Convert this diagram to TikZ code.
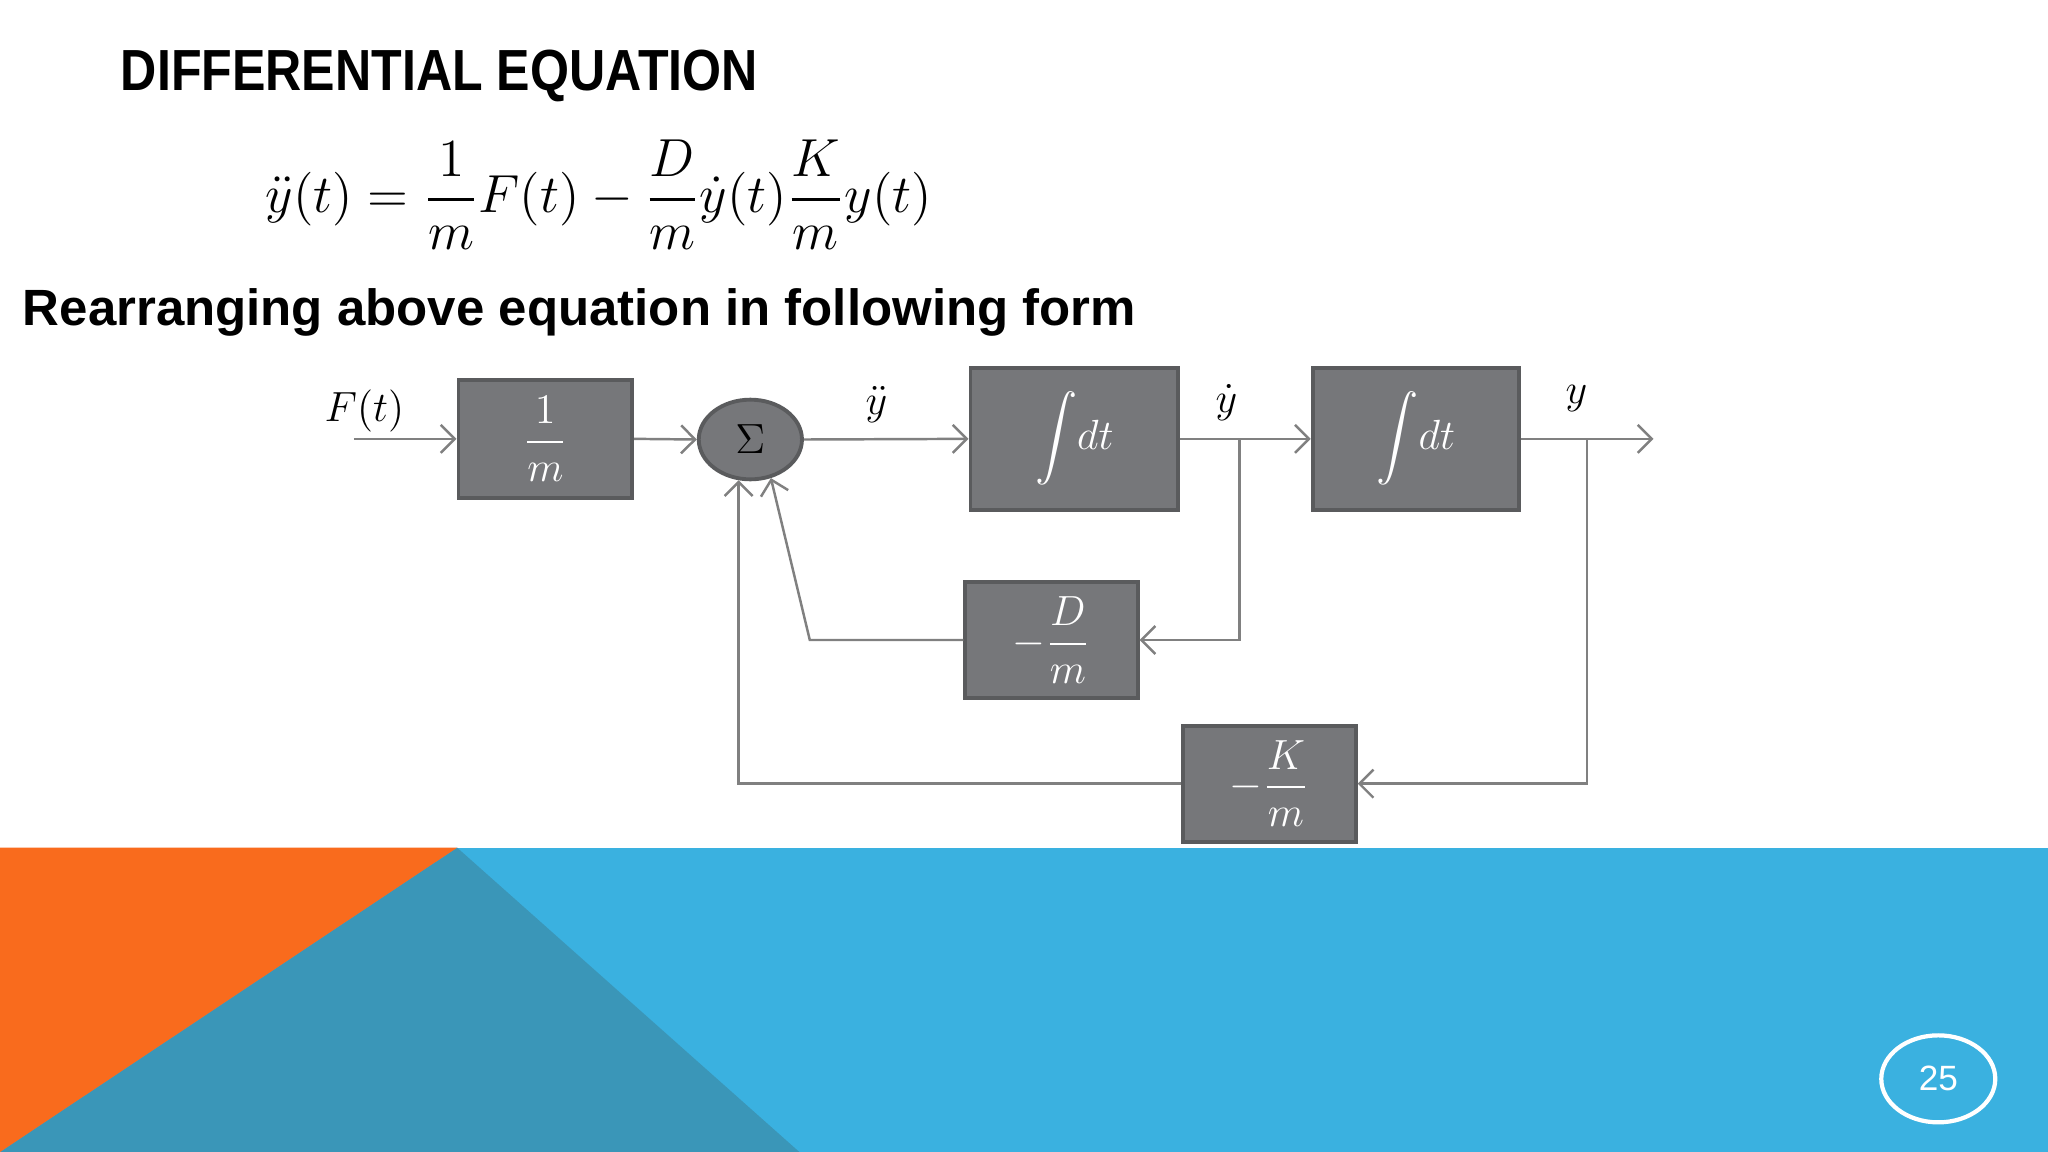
\documentclass[tikz,border=0pt]{standalone}
\usepackage{amsmath}
\usepackage{fontspec}
\newfontfamily\arial{Liberation Sans}
\usetikzlibrary{arrows.meta,shapes.geometric}
\definecolor{boxfill}{HTML}{76777A}
\definecolor{boxline}{HTML}{5A5B5D}
\definecolor{wire}{HTML}{808080}
\definecolor{orng}{HTML}{F96B1D}
\definecolor{darkteal}{HTML}{3A96B8}
\definecolor{skyb}{HTML}{3AB1E0}
\begin{document}
\begin{tikzpicture}[x=0.013061cm,y=-0.013061cm,
  blk/.style={draw=boxline,line width=1.1pt,fill=boxfill,inner sep=0pt,text=white,font=\fontsize{11.5}{13}\selectfont},
  wirel/.style={draw=wire,line width=0.7pt},
  arr/.style={wirel,-{Straight Barb[length=1.4mm,width=2.8mm]}},
  lbl/.style={font=\fontsize{11.5}{13}\selectfont,inner sep=0pt}]
\useasboundingbox (0,0) rectangle (1568,882);
\fill[white] (0,0) rectangle (1568,882);
% bottom band
\fill[skyb] (0,649) rectangle (1568,882);
\fill[darkteal] (350,649) -- (612,882) -- (0,882) -- cycle;
\fill[orng] (0,649) -- (350,649) -- (0,882) -- cycle;
\node[draw=white,line width=1.2pt,ellipse,minimum width=1.14cm,minimum height=0.87cm,inner sep=0pt,text=white,font=\arial\fontsize{10}{12}\selectfont] (pg) at (1484,826) {25};
% texts
\node[anchor=base west,inner sep=0pt] (title) at (92,69) {\resizebox{6.37cm}{0.405cm}{\arial\bfseries DIFFERENTIAL EQUATION}};
\node[anchor=base west,inner sep=0pt] (sub) at (17,249) {\resizebox{11.13cm}{!}{\arial\bfseries Rearranging above equation in following form}};
\node[anchor=base west,inner sep=0pt,font=\fontsize{15}{18}\selectfont] (eq) at (203,163) {\resizebox{6.66cm}{!}{$\ddot{y}(t)=\dfrac{1}{m}F(t)-\dfrac{D}{m}\dot{y}(t)\dfrac{K}{m}y(t)$}};
% blocks
\node[blk,minimum width=1.737cm,minimum height=1.175cm] (b1) at (417.5,336) {$\dfrac{1}{m}$};
\node[blk,ellipse,minimum width=1.032cm,minimum height=0.797cm,text=black,font=\fontsize{13}{15}\selectfont] (sum) at (574.5,336.5) {$\Sigma$};
\node[blk,minimum width=2.077cm,minimum height=1.424cm] (i1) at (822.5,336) {$\displaystyle\int\! dt$};
\node[blk,minimum width=2.064cm,minimum height=1.424cm] (i2) at (1084,336) {$\displaystyle\int\! dt$};
\node[blk,minimum width=1.724cm,minimum height=1.162cm] (db) at (805,490) {$-\dfrac{D}{m}$};
\node[blk,minimum width=1.724cm,minimum height=1.162cm] (kb) at (972,600) {$-\dfrac{K}{m}$};
% labels
\node[lbl] (lf) at (279,315) {$F(t)$};
\node[lbl] (lydd) at (671,310) {$\ddot{y}$};
\node[lbl] (lyd) at (939,308) {$\dot{y}$};
\node[lbl] (ly) at (1207,305) {$y$};
% coordinates
\coordinate (in) at (271,336);
\coordinate (out) at (1266,336);
\coordinate (br1) at (949,336);
\coordinate (br2) at (1215,336);
\coordinate (dc) at (620,490);
% connectors
\draw[arr] (in) -- (b1.west);
\draw[arr] (b1.east) -- (sum.west);
\draw[arr] (sum.east) -- (i1.west);
\draw[arr] (i1.east) -- (i2.west);
\draw[arr] (i2.east) -- (out);
\draw[arr] (br1) |- (db.east);
\draw[arr] (br2) |- (kb.east);
\draw[arr] (db.west) -- (dc) -- (sum.-62);
\draw[arr] (kb.west) -| (sum.-106);
\end{tikzpicture}
\end{document}
